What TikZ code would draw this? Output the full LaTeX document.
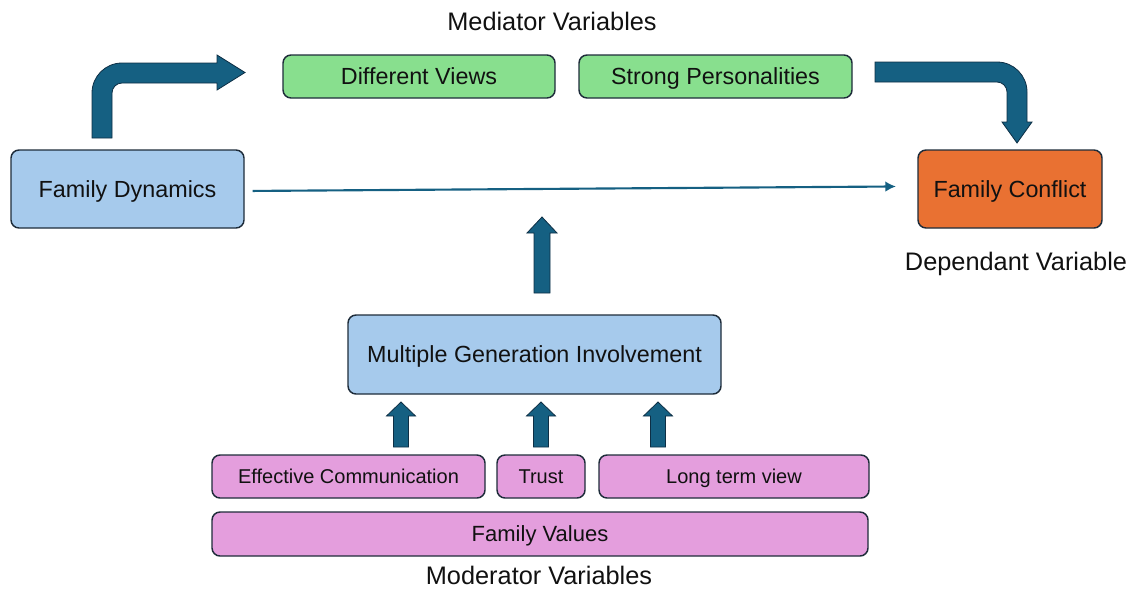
\documentclass[tikz,border=0pt]{standalone}
\usepackage{fontspec}
\setmainfont{Liberation Sans}
\usetikzlibrary{fit,arrows.meta}
\definecolor{boxline}{HTML}{1E2C3A}
\definecolor{txt}{HTML}{111111}
\definecolor{medgreen}{HTML}{88DF8E}
\definecolor{ltblue}{HTML}{A6CAEC}
\definecolor{orng}{HTML}{E97132}
\definecolor{pinkbox}{HTML}{E49EDD}
\definecolor{arrfill}{HTML}{156082}
\definecolor{arrline}{HTML}{0E2F45}
\begin{document}
\begin{tikzpicture}[x=0.75pt,y=-0.75pt,
  box/.style={draw=boxline, line width=1.1pt, rounded corners=6pt, inner sep=0pt},
  plain/.style={text=txt, inner sep=0pt, anchor=base},
  bigtxt/.style={font=\fontsize{17.5}{20}\selectfont, yshift=-6.1pt},
  labtxt/.style={font=\fontsize{19}{21}\selectfont, yshift=-6.6pt},
  smalltxt/.style={font=\fontsize{15}{17}\selectfont, yshift=-5.3pt},
  midtxt/.style={font=\fontsize{16.5}{19}\selectfont, yshift=-5.8pt},
  blockarrow/.style={fill=arrfill, draw=arrline, line width=0.6pt, line join=miter},
  thinarrow/.style={draw=arrfill, line width=1.6pt, -{Latex[length=8pt,width=8pt]}}
]
\useasboundingbox (0,0) rectangle (1138,589);

% labels
\node[plain, labtxt] (medlab) at (552,22) {Mediator Variables};
\node[plain, labtxt] (deplab) at (1016,262) {Dependant Variable};
\node[plain, labtxt] (modlab) at (539,576) {Moderator Variables};

% mediator boxes
\node[box, fill=medgreen, fit={(283,55) (555,98)}] (dv) {};
\node[plain, bigtxt] (dvt) at (dv.center) {Different Views};
\node[box, fill=medgreen, fit={(579,55) (852,98)}] (sp) {};
\node[plain, bigtxt] (spt) at (sp.center) {Strong Personalities};

% main boxes
\node[box, fill=ltblue, fit={(11,150) (244,228)}] (fd) {};
\node[plain, bigtxt] (fdt) at (fd.center) {Family Dynamics};
\node[box, fill=orng, fit={(918,150) (1102,228)}] (fc) {};
\node[plain, bigtxt] (fct) at (fc.center) {Family Conflict};
\node[box, fill=ltblue, fit={(348,315) (721,394)}] (mgi) {};
\node[plain, bigtxt] (mgit) at (mgi.center) {Multiple Generation Involvement};

% moderator boxes
\node[box, fill=pinkbox, fit={(212,455) (485,498)}] (ec) {};
\node[plain, smalltxt] (ect) at (ec.center) {Effective Communication};
\node[box, fill=pinkbox, fit={(497,455) (585,498)}] (tr) {};
\node[plain, smalltxt] (trt) at (tr.center) {Trust};
\node[box, fill=pinkbox, fit={(599,455) (869,498)}] (lt) {};
\node[plain, smalltxt] (ltt) at (lt.center) {Long term view};
\node[box, fill=pinkbox, fit={(212,512) (868,556)}] (fv) {};
\node[plain, midtxt] (fvt) at (fv.center) {Family Values};

% thin arrow
\draw[thinarrow, shorten <=6pt, shorten >=16pt] ([yshift=-1.5pt]fd.east) -- ([yshift=2pt]fc.west);

% bent arrow left (from Family Dynamics to mediators)
\path[blockarrow] (92,138) -- (92,93) .. controls (92,76.4) and (105.4,63) .. (122,63)
  -- (217,63) -- (217,55) -- (245,72.5) -- (217,90) -- (217,83) -- (122,83)
  .. controls (116.5,83) and (112,87.5) .. (112,93) -- (112,138) -- cycle;

% bent arrow right (from mediators to Family Conflict)
\path[blockarrow] (875,62) -- (997,62) .. controls (1013.6,62) and (1027,75.4) .. (1027,92)
  -- (1027,122) -- (1032,122) -- (1017,143) -- (1002,122) -- (1007,122) -- (1007,92)
  .. controls (1007,86.5) and (1002.5,82) .. (997,82) -- (875,82) -- cycle;

% big up arrow (MGI -> main relation)
\path[blockarrow] (534,293) -- (534,233) -- (527,233) -- (542,217) -- (557,233) -- (550,233) -- (550,293) -- cycle;

% small up arrows
\foreach \cx in {401,541,658}{
  \path[blockarrow] (\cx-7.5,447) -- (\cx-7.5,416) -- (\cx-14.5,416) -- (\cx,402) -- (\cx+14.5,416) -- (\cx+7.5,416) -- (\cx+7.5,447) -- cycle;
}
\end{tikzpicture}
\end{document}
